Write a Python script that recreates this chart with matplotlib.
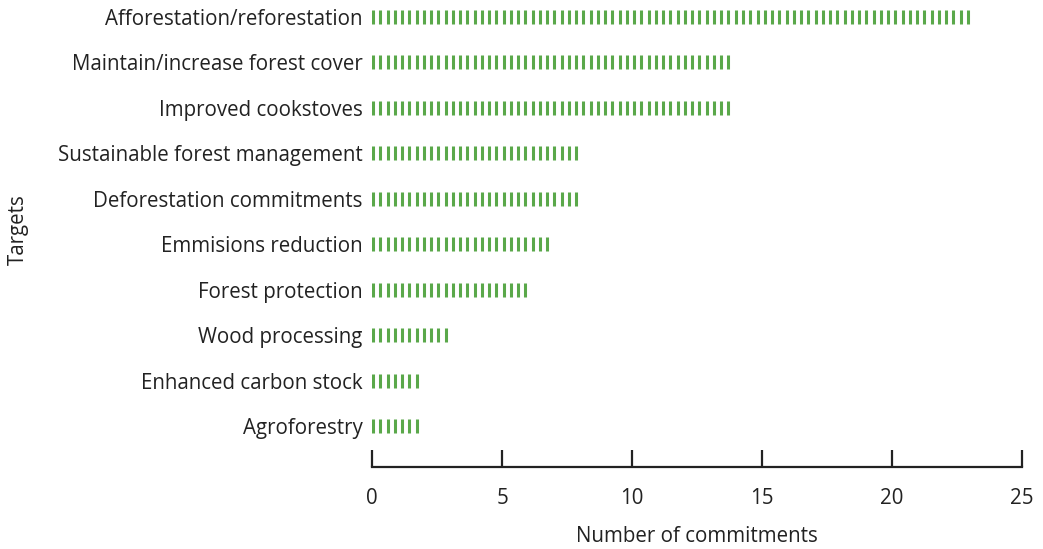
import numpy as np
import matplotlib
matplotlib.use("Agg")
import matplotlib.pyplot as plt

plt.rcParams["font.family"] = ["Open Sans", "DejaVu Sans"]

targets = [
    "Afforestation/reforestation",
    "Maintain/increase forest cover",
    "Improved cookstoves",
    "Sustainable forest management",
    "Deforestation commitments",
    "Emmisions reduction",
    "Forest protection",
    "Wood processing",
    "Enhanced carbon stock",
    "Agroforestry",
]
commitments = [23, 14, 14, 8, 8, 7, 6, 3, 2, 2]
x_ticks = [0, 5, 10, 15, 20, 25]

GREEN = "#5aa84a"
TEXT = "#222222"
STEP = 0.279  # spacing of the dashes that make up each bar
FS = 14.8

fig = plt.figure(figsize=(10.43, 5.49), dpi=100)
ax = fig.add_axes([372 / 1043, 82 / 549, 650 / 1043, 467 / 549])

n = len(targets)
ypos = np.arange(n)[::-1]
for y, v in zip(ypos, commitments):
    xs = np.arange(0.04, v - 0.05, STEP)
    ax.vlines(xs, y - 0.155, y + 0.155, color=GREEN, linewidth=2.2)

ax.set_xlim(0, 25)
ax.set_ylim(-0.9, 9.37)

ax.set_yticks(ypos)
ax.set_yticklabels(targets, fontsize=FS, color=TEXT)
ax.tick_params(axis="y", length=0, pad=7)

ax.set_xticks(x_ticks)
ax.set_xticklabels([str(t) for t in x_ticks], fontsize=FS, color=TEXT)
ax.tick_params(axis="x", direction="in", length=12, width=1.6, pad=15, color=TEXT)

for side in ["top", "right", "left"]:
    ax.spines[side].set_visible(False)
ax.spines["bottom"].set_linewidth(1.6)
ax.spines["bottom"].set_color(TEXT)

ax.set_xlabel("Number of commitments", fontsize=FS, color=TEXT, labelpad=12)
fig.text(18 / 1043, 1 - 230 / 549, "Targets", rotation=90, fontsize=FS,
         color=TEXT, ha="center", va="center")

fig.savefig("out.png", dpi=100)
